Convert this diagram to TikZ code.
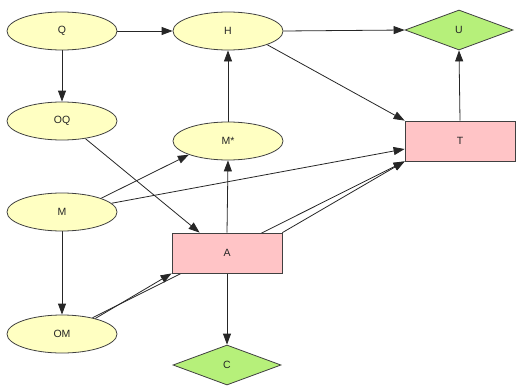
\documentclass[tikz,border=0pt]{standalone}
\usepackage{fontspec}
\setmainfont{Liberation Sans}
\usetikzlibrary{shapes.geometric,arrows.meta,calc,backgrounds}
\definecolor{ellfill}{HTML}{FFFFC2}
\definecolor{recfill}{HTML}{FFC4C6}
\definecolor{diafill}{HTML}{B6F07A}
\definecolor{edgecol}{HTML}{262626}
\definecolor{bordcol}{HTML}{404040}
\tikzset{
  chance/.style={ellipse, draw=bordcol, fill=ellfill, line width=0.8pt, minimum width=110pt, minimum height=38pt, inner sep=0pt, font=\fontsize{10.5}{12}\selectfont, text=black!85},
  decision/.style={rectangle, draw=bordcol, fill=recfill, line width=0.8pt, minimum width=110pt, minimum height=40pt, inner sep=0pt, font=\fontsize{10.5}{12}\selectfont, text=black!85},
  utility/.style={diamond, draw=bordcol, fill=diafill, line width=0.8pt, minimum width=108pt, minimum height=40pt, inner sep=0pt, font=\fontsize{10.5}{12}\selectfont, text=black!85},
  link/.style={draw=edgecol, line width=0.8pt, -{Triangle[length=11pt,width=8pt]}},
}
\begin{document}
\begin{tikzpicture}[x=1pt,y=-1pt]
\useasboundingbox (0,0) rectangle (521,388);
\node[chance] (Q) at (62,31) {Q};
\node[chance] (H) at (228,31) {H};
\node[utility] (U) at (459,30) {U};
\node[chance] (OQ) at (62,121) {OQ};
\node[chance] (Mstar) at (228,141) {M*};
\node[decision] (T) at (460,141) {T};
\node[chance] (M) at (62,212) {M};
\node[decision] (A) at (227,253) {A};
\node[chance] (OM) at (62,334) {OM};
\node[utility] (C) at (227,365) {C};
\begin{pgfonlayer}{background}
\draw[link] (Q.east) -- (H.west);
\draw[link] (Q.south) -- (OQ.north);
\draw[link] (H.east) -- (U.west);
\draw[link] (H.south east) -- (T.north west);
\draw[link] (Mstar.north) -- (H.south);
\draw[link] (T.north) -- (U.south);
\draw[link] (OQ.-37) -- ($(A.north west)+(28,0)$);
\draw[link] (M.north east) -- (Mstar.south west);
\draw[link] (M.10) -- ($(T.west)+(0,8)$);
\draw[link] (M.south) -- (OM.north);
\draw[link] (OM.25) -- (A.south west);
\draw[link] (OM.28) -- (T.south west);
\draw[link] (A.north east) -- (T.south west);
\draw[link] (A.north) -- (Mstar.south);
\draw[link] (A.south) -- (C.north);
\end{pgfonlayer}
\end{tikzpicture}
\end{document}
